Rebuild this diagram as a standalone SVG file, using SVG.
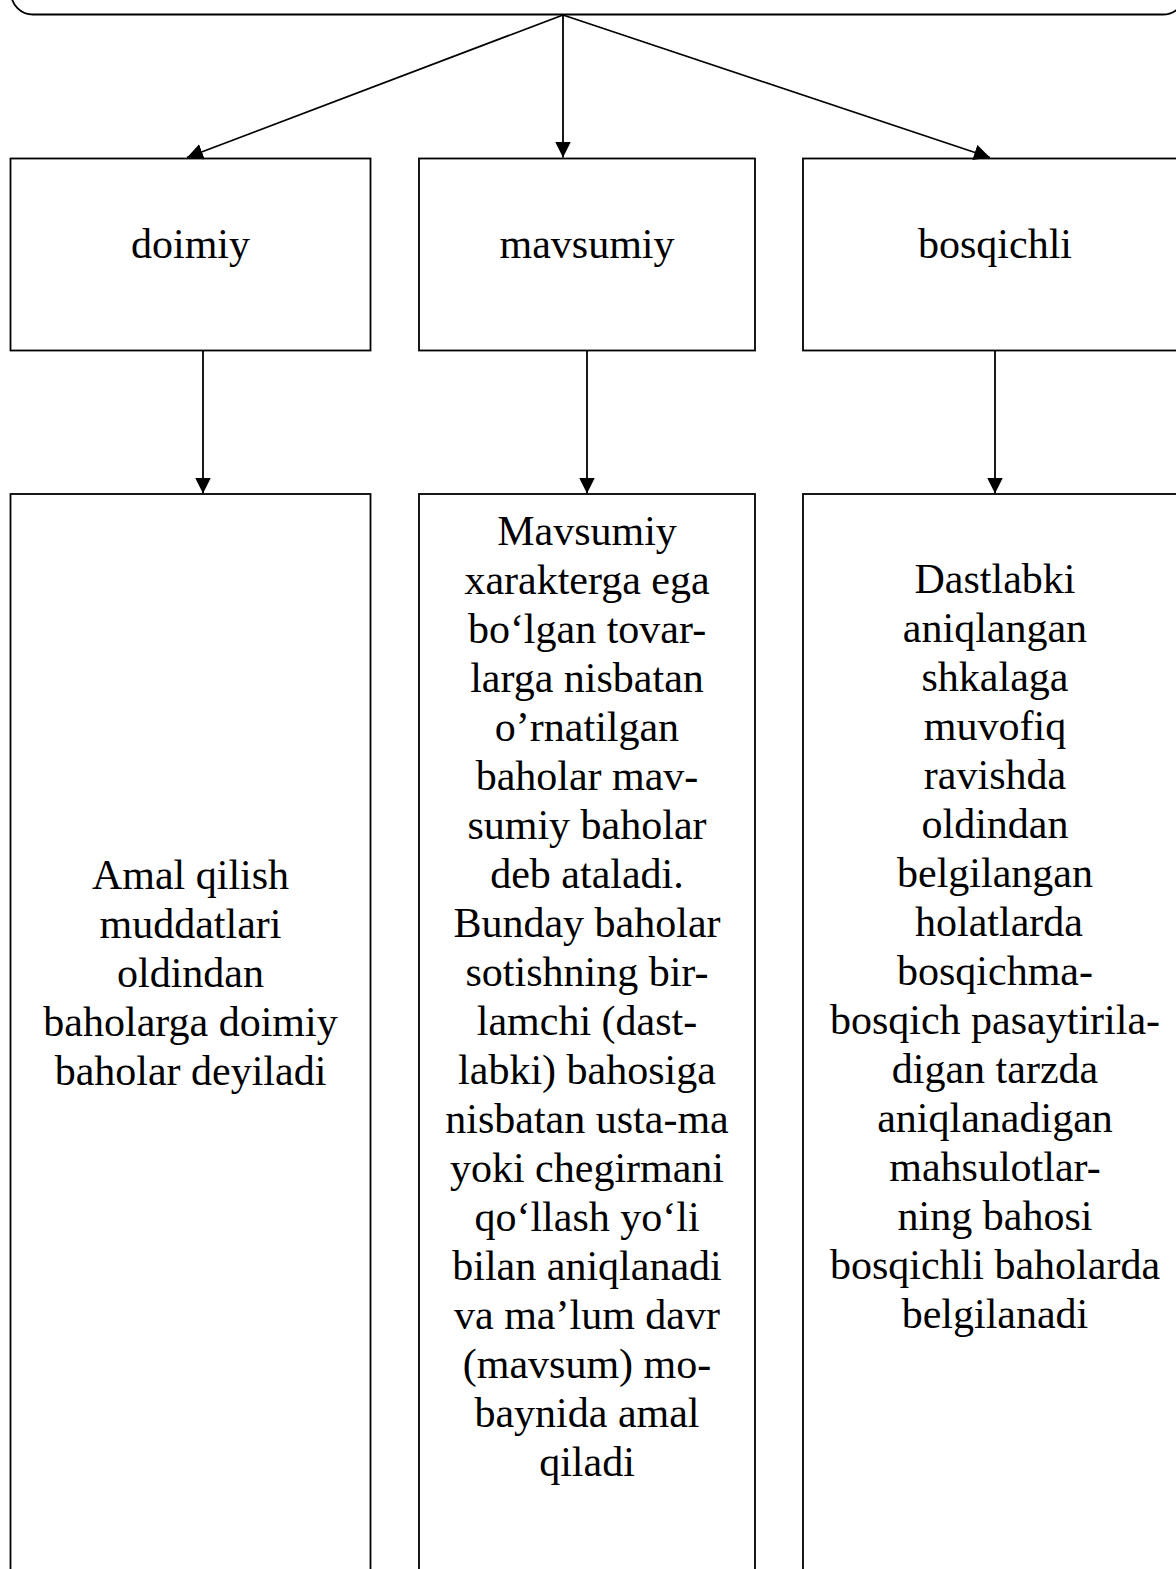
<svg xmlns="http://www.w3.org/2000/svg" width="1176" height="1569" viewBox="0 0 1176 1569">
<style>
.box{fill:#fff;stroke:#000;stroke-width:1.8}
.lbl{font-family:"Liberation Serif","Times New Roman",serif;font-size:42px;fill:#000;text-anchor:middle}
.con{stroke:#000;stroke-width:1.8;fill:none}
</style>
<defs>
<marker id="ah" markerUnits="userSpaceOnUse" markerWidth="18" markerHeight="18" refX="16" refY="8" orient="auto">
<path d="M0,0 L16,8 L0,16 z" fill="#000"/>
</marker>
</defs>
<rect width="1176" height="1569" fill="#fff"/>
<g id="top">
<rect class="box" x="11" y="-100" width="1174" height="114.5" rx="22" ry="22"/>
</g>
<g id="doimiy">
<rect class="box" x="10.5" y="158.5" width="360" height="192"/>
<text class="lbl" x="190.5" y="258">doimiy</text>
</g>
<g id="mavsumiy">
<rect class="box" x="419" y="158.5" width="336" height="192"/>
<text class="lbl" x="587" y="258">mavsumiy</text>
</g>
<g id="bosqichli">
<rect class="box" x="803" y="158.5" width="384" height="192"/>
<text class="lbl" x="995" y="258">bosqichli</text>
</g>
<g id="doimiy-desc">
<rect class="box" x="10.5" y="494" width="360" height="1100"/>
<text class="lbl" x="190.5" y="889">Amal qilish</text>
<text class="lbl" x="190.5" y="938">muddatlari</text>
<text class="lbl" x="190.5" y="987">oldindan</text>
<text class="lbl" x="190.5" y="1036">baholarga doimiy</text>
<text class="lbl" x="190.5" y="1085">baholar deyiladi</text>
</g>
<g id="mavsumiy-desc">
<rect class="box" x="419" y="494" width="336" height="1100"/>
<text class="lbl" x="587" y="545">Mavsumiy</text>
<text class="lbl" x="587" y="594">xarakterga ega</text>
<text class="lbl" x="587" y="643">bo‘lgan tovar-</text>
<text class="lbl" x="587" y="692">larga nisbatan</text>
<text class="lbl" x="587" y="741">o’rnatilgan</text>
<text class="lbl" x="587" y="790">baholar mav-</text>
<text class="lbl" x="587" y="839">sumiy baholar</text>
<text class="lbl" x="587" y="888">deb ataladi.</text>
<text class="lbl" x="587" y="937">Bunday baholar</text>
<text class="lbl" x="587" y="986">sotishning bir-</text>
<text class="lbl" x="587" y="1035">lamchi (dast-</text>
<text class="lbl" x="587" y="1084">labki) bahosiga</text>
<text class="lbl" x="587" y="1133">nisbatan usta-ma</text>
<text class="lbl" x="587" y="1182">yoki chegirmani</text>
<text class="lbl" x="587" y="1231">qo‘llash yo‘li</text>
<text class="lbl" x="587" y="1280">bilan aniqlanadi</text>
<text class="lbl" x="587" y="1329">va ma’lum davr</text>
<text class="lbl" x="587" y="1378">(mavsum) mo-</text>
<text class="lbl" x="587" y="1427">baynida amal</text>
<text class="lbl" x="587" y="1476">qiladi</text>
</g>
<g id="bosqichli-desc">
<rect class="box" x="803" y="494" width="384" height="1100"/>
<text class="lbl" x="995" y="593">Dastlabki</text>
<text class="lbl" x="995" y="642">aniqlangan</text>
<text class="lbl" x="995" y="691">shkalaga</text>
<text class="lbl" x="995" y="740">muvofiq</text>
<text class="lbl" x="995" y="789">ravishda</text>
<text class="lbl" x="995" y="838">oldindan</text>
<text class="lbl" x="995" y="887">belgilangan</text>
<text class="lbl" x="999" y="936">holatlarda</text>
<text class="lbl" x="995" y="985">bosqichma-</text>
<text class="lbl" x="995" y="1034">bosqich pasaytirila-</text>
<text class="lbl" x="995" y="1083">digan tarzda</text>
<text class="lbl" x="995" y="1132">aniqlanadigan</text>
<text class="lbl" x="995" y="1181">mahsulotlar-</text>
<text class="lbl" x="995" y="1230">ning bahosi</text>
<text class="lbl" x="995" y="1279">bosqichli baholarda</text>
<text class="lbl" x="995" y="1328">belgilanadi</text>
</g>
<g id="connectors">
<line class="con" x1="563" y1="15" x2="187" y2="157.5" marker-end="url(#ah)"/>
<line class="con" x1="563" y1="15" x2="563" y2="157.5" marker-end="url(#ah)"/>
<line class="con" x1="563" y1="15" x2="990" y2="157.5" marker-end="url(#ah)"/>
<line class="con" x1="203" y1="351" x2="203" y2="493.5" marker-end="url(#ah)"/>
<line class="con" x1="587" y1="351" x2="587" y2="493.5" marker-end="url(#ah)"/>
<line class="con" x1="995" y1="351" x2="995" y2="493.5" marker-end="url(#ah)"/>
</g>
</svg>
